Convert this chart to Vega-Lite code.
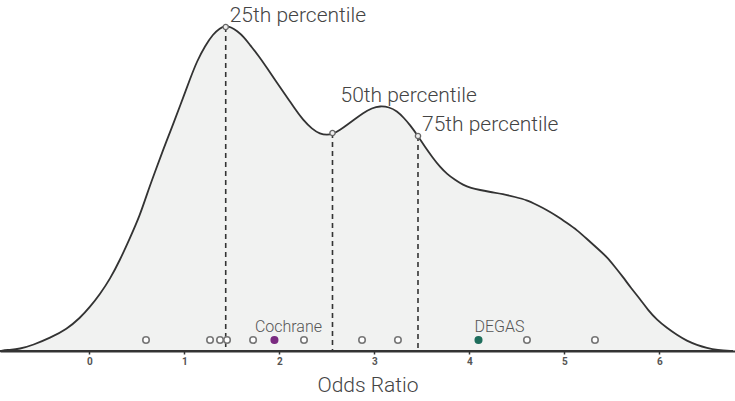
{
  "$schema": "https://vega.github.io/schema/vega-lite/v6.json",
  "width": 735,
  "height": 351,
  "autosize": "none",
  "padding": {"left": 0, "right": 0, "top": 0, "bottom": 50},
  "background": "white",
  "config": {"view": {"stroke": null}},
  "datasets": {
    "curve": [
      {"x": -0.94, "d": 0}, {"x": -0.866, "d": 1}, {"x": -0.729, "d": 2}, {"x": -0.593, "d": 6},
      {"x": -0.414, "d": 13}, {"x": -0.235, "d": 22}, {"x": -0.098, "d": 33}, {"x": 0.007, "d": 44},
      {"x": 0.113, "d": 57}, {"x": 0.218, "d": 72}, {"x": 0.323, "d": 91}, {"x": 0.428, "d": 113},
      {"x": 0.534, "d": 136}, {"x": 0.607, "d": 157}, {"x": 0.691, "d": 179}, {"x": 0.776, "d": 201},
      {"x": 0.871, "d": 224}, {"x": 0.955, "d": 245}, {"x": 1.06, "d": 272}, {"x": 1.134, "d": 290},
      {"x": 1.218, "d": 305}, {"x": 1.303, "d": 317}, {"x": 1.376, "d": 323}, {"x": 1.429, "d": 325},
      {"x": 1.492, "d": 324}, {"x": 1.555, "d": 320}, {"x": 1.628, "d": 314}, {"x": 1.692, "d": 306},
      {"x": 1.776, "d": 296}, {"x": 1.871, "d": 283}, {"x": 1.976, "d": 268}, {"x": 2.081, "d": 254},
      {"x": 2.165, "d": 242}, {"x": 2.25, "d": 231}, {"x": 2.345, "d": 222}, {"x": 2.429, "d": 217},
      {"x": 2.503, "d": 216}, {"x": 2.566, "d": 217}, {"x": 2.64, "d": 221}, {"x": 2.713, "d": 226},
      {"x": 2.797, "d": 232}, {"x": 2.881, "d": 238}, {"x": 2.976, "d": 243}, {"x": 3.06, "d": 245},
      {"x": 3.155, "d": 244}, {"x": 3.239, "d": 240}, {"x": 3.313, "d": 233}, {"x": 3.376, "d": 226},
      {"x": 3.46, "d": 215}, {"x": 3.534, "d": 204}, {"x": 3.618, "d": 193}, {"x": 3.692, "d": 184},
      {"x": 3.766, "d": 177}, {"x": 3.851, "d": 171}, {"x": 3.934, "d": 166}, {"x": 4.018, "d": 163},
      {"x": 4.113, "d": 161}, {"x": 4.218, "d": 159}, {"x": 4.355, "d": 157}, {"x": 4.481, "d": 154},
      {"x": 4.607, "d": 151}, {"x": 4.713, "d": 146}, {"x": 4.818, "d": 141}, {"x": 4.923, "d": 135},
      {"x": 5.029, "d": 128}, {"x": 5.134, "d": 121}, {"x": 5.239, "d": 112}, {"x": 5.344, "d": 103},
      {"x": 5.449, "d": 94}, {"x": 5.534, "d": 84}, {"x": 5.618, "d": 74}, {"x": 5.702, "d": 63},
      {"x": 5.797, "d": 52}, {"x": 5.881, "d": 41}, {"x": 5.976, "d": 31}, {"x": 6.081, "d": 23},
      {"x": 6.186, "d": 16}, {"x": 6.291, "d": 10}, {"x": 6.397, "d": 6}, {"x": 6.502, "d": 3},
      {"x": 6.607, "d": 1}, {"x": 6.776, "d": 0}
    ],
    "percentiles": [
      {"x": 1.436, "d": 324, "label": "25th percentile"},
      {"x": 2.56, "d": 218, "label": "50th percentile"},
      {"x": 3.46, "d": 215, "label": "75th percentile"}
    ],
    "studies": [
      {"x": 0.597, "d": 11, "study": "other"},
      {"x": 1.271, "d": 11, "study": "other"},
      {"x": 1.376, "d": 11, "study": "other"},
      {"x": 1.45, "d": 11, "study": "other"},
      {"x": 1.724, "d": 11, "study": "other"},
      {"x": 1.949, "d": 11, "study": "Cochrane"},
      {"x": 2.26, "d": 11, "study": "other"},
      {"x": 2.871, "d": 11, "study": "other"},
      {"x": 3.249, "d": 11, "study": "other"},
      {"x": 4.097, "d": 11, "study": "DEGAS"},
      {"x": 4.607, "d": 11, "study": "other"},
      {"x": 5.323, "d": 11, "study": "other"}
    ]
  },
  "layer": [
    {
      "data": {"name": "curve"},
      "mark": {"type": "area", "interpolate": "basis", "fill": "#f1f2f1", "stroke": "#333333", "strokeWidth": 1.8},
      "encoding": {
        "x": {"field": "x", "type": "quantitative", "scale": {"domain": [-0.94, 6.797], "nice": false, "zero": false},
          "axis": {"title": "Odds Ratio", "values": [0, 1, 2, 3, 4, 5, 6], "format": "d", "grid": false,
            "domainColor": "#333333", "domainWidth": 2, "tickColor": "#333333", "tickSize": 3, "tickWidth": 1.5,
            "labelFont": "Roboto", "labelFontWeight": "bold", "labelFontSize": 10, "labelColor": "#555555", "labelPadding": 2,
            "titleFont": "Roboto", "titleFontWeight": 300, "titleFontSize": 21, "titleColor": "#444444", "titlePadding": 8}},
        "y": {"field": "d", "type": "quantitative", "scale": {"domain": [0, 351], "nice": false}, "axis": null}
      }
    },
    {
      "data": {"name": "percentiles"},
      "mark": {"type": "rule", "strokeDash": [5, 4], "strokeWidth": 1.6, "color": "#333333"},
      "encoding": {
        "x": {"field": "x", "type": "quantitative"},
        "y": {"field": "d", "type": "quantitative"},
        "y2": {"datum": 0}
      }
    },
    {
      "data": {"name": "percentiles"},
      "mark": {"type": "point", "shape": "circle", "filled": true, "fill": "#eeeeee", "stroke": "#666666", "strokeWidth": 1.3, "size": 28, "opacity": 1},
      "encoding": {
        "x": {"field": "x", "type": "quantitative"},
        "y": {"field": "d", "type": "quantitative"}
      }
    },
    {
      "data": {"name": "percentiles"},
      "transform": [{"filter": "datum.label !== '50th percentile'"}],
      "mark": {"type": "text", "align": "left", "baseline": "alphabetic", "dx": 4, "dy": -5, "font": "Roboto", "fontSize": 21, "fontWeight": 300, "color": "#444444"},
      "encoding": {
        "x": {"field": "x", "type": "quantitative"},
        "y": {"field": "d", "type": "quantitative"},
        "text": {"field": "label"}
      }
    },
    {
      "data": {"name": "percentiles"},
      "transform": [{"filter": "datum.label === '50th percentile'"}],
      "mark": {"type": "text", "align": "left", "baseline": "alphabetic", "dx": 8, "dy": -31, "font": "Roboto", "fontSize": 21, "fontWeight": 300, "color": "#444444"},
      "encoding": {
        "x": {"field": "x", "type": "quantitative"},
        "y": {"field": "d", "type": "quantitative"},
        "text": {"field": "label"}
      }
    },
    {
      "data": {"name": "studies"},
      "mark": {"type": "point", "shape": "circle", "filled": true, "size": 42, "strokeWidth": 1.6, "opacity": 1},
      "encoding": {
        "x": {"field": "x", "type": "quantitative"},
        "y": {"field": "d", "type": "quantitative"},
        "fill": {"field": "study", "type": "nominal", "scale": {"domain": ["other", "Cochrane", "DEGAS"], "range": ["#ffffff", "#7a2b80", "#1f6e5c"]}, "legend": null},
        "stroke": {"field": "study", "type": "nominal", "scale": {"domain": ["other", "Cochrane", "DEGAS"], "range": ["#777777", "#7a2b80", "#1f6e5c"]}, "legend": null}
      }
    },
    {
      "data": {"name": "studies"},
      "transform": [{"filter": "datum.study === 'Cochrane'"}],
      "mark": {"type": "text", "align": "center", "baseline": "alphabetic", "dx": 14, "dy": -8, "font": "Roboto", "fontSize": 16, "fontWeight": 300, "color": "#555555"},
      "encoding": {
        "x": {"field": "x", "type": "quantitative"},
        "y": {"field": "d", "type": "quantitative"},
        "text": {"field": "study"}
      }
    },
    {
      "data": {"name": "studies"},
      "transform": [{"filter": "datum.study === 'DEGAS'"}],
      "mark": {"type": "text", "align": "center", "baseline": "alphabetic", "dx": 21, "dy": -8, "font": "Roboto", "fontSize": 16, "fontWeight": 300, "color": "#555555"},
      "encoding": {
        "x": {"field": "x", "type": "quantitative"},
        "y": {"field": "d", "type": "quantitative"},
        "text": {"field": "study"}
      }
    }
  ]
}
